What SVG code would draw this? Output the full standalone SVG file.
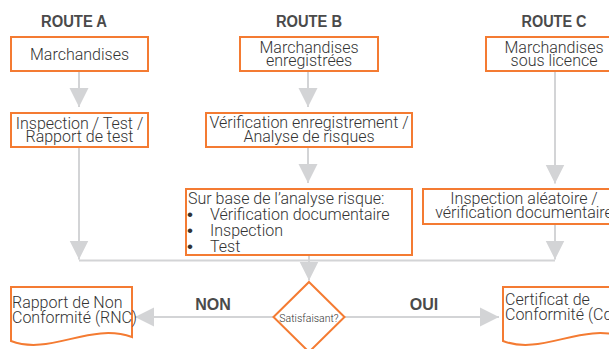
<svg xmlns="http://www.w3.org/2000/svg" width="609" height="349" viewBox="0 0 609 349">
<defs>
<style>
.box{fill:#fff;stroke:#f47b32;stroke-width:2}
.t{font-family:Roboto,"Liberation Sans",Arial,sans-serif;font-weight:300;font-size:16px;fill:#333}
.c{text-anchor:middle}
.b{font-family:"Liberation Sans",Arial,sans-serif;font-size:17px;fill:#333}
.h{font-family:"Liberation Sans",Arial,sans-serif;font-size:16px;font-weight:bold;fill:#4a4a4a;text-anchor:middle}
.ln{fill:none;stroke:#d3d4d6;stroke-width:2}
</style>
<marker id="ah" markerUnits="userSpaceOnUse" markerWidth="20" markerHeight="20" refX="19" refY="9.5" orient="auto" viewBox="0 0 20 19">
<path d="M0,0 L19,9.5 L0,19 Z" fill="#d3d4d6"/>
</marker>
</defs>
<rect width="609" height="349" fill="#fff"/>
<g id="headings">
<text class="h" x="74" y="26.5" textLength="66" lengthAdjust="spacingAndGlyphs">ROUTE A</text>
<text class="h" x="309" y="26.5" textLength="66" lengthAdjust="spacingAndGlyphs">ROUTE B</text>
<text class="h" x="554" y="26.5" textLength="65" lengthAdjust="spacingAndGlyphs">ROUTE C</text>
</g>
<g id="connectors">
<path class="ln" d="M79,71 V107" marker-end="url(#ah)"/>
<path class="ln" d="M79,147 V259.5" marker-end="url(#ah)"/>
<path class="ln" d="M308,72 V107" marker-end="url(#ah)"/>
<path class="ln" d="M308,147 V183" marker-end="url(#ah)"/>
<path class="ln" d="M309,255 V280.5" marker-end="url(#ah)"/>
<path class="ln" d="M555,72 V183.5" marker-end="url(#ah)"/>
<path class="ln" d="M555,224 V259.5" marker-end="url(#ah)"/>
<path class="ln" d="M79,260.5 H555"/>
<path class="ln" d="M273,317 H135" marker-end="url(#ah)"/>
<path class="ln" d="M345,317 H499" marker-end="url(#ah)"/>
<text class="h" x="213" y="310">NON</text>
<text class="h" x="424" y="310">OUI</text>
</g>
<g id="a1">
<rect class="box" x="11" y="37" width="137" height="34"/>
<text class="t c" x="79.5" y="60">Marchandises</text>
</g>
<g id="a2">
<rect class="box" x="11" y="113" width="137" height="34"/>
<text class="t c" x="79.5" y="128.5">Inspection / Test /</text>
<text class="t c" x="79.5" y="142">Rapport de test</text>
</g>
<g id="b1">
<rect class="box" x="240" y="37" width="138" height="34"/>
<text class="t c" x="309" y="53">Marchandises</text>
<text class="t c" x="309" y="66">enregistrées</text>
</g>
<g id="b2">
<rect class="box" x="206" y="113" width="206" height="34"/>
<text class="t c" x="309" y="128.3">Vérification enregistrement /</text>
<text class="t c" x="309" y="142.3">Analyse de risques</text>
</g>
<g id="b3">
<rect class="box" x="186" y="189" width="226" height="66"/>
<text class="t" x="188" y="204">Sur base de l’analyse risque:</text>
<text class="b" x="187" y="220">•</text>
<text class="t" x="210" y="220">Vérification documentaire</text>
<text class="b" x="187" y="236">•</text>
<text class="t" x="210" y="236">Inspection</text>
<text class="b" x="187" y="252">•</text>
<text class="t" x="210" y="252">Test</text>
</g>
<g id="c1">
<rect class="box" x="486" y="37" width="136" height="34"/>
<text class="t c" x="554" y="53">Marchandises</text>
<text class="t c" x="554" y="66">sous licence</text>
</g>
<g id="c2">
<rect class="box" x="423" y="189" width="202" height="35"/>
<text class="t c" x="524" y="204">Inspection aléatoire /</text>
<text class="t c" x="524" y="218.3">vérification documentaire</text>
</g>
<g id="decision">
<path class="box" d="M309,282 L344.5,317 L309,352 L273.5,317 Z"/>
<text class="t c" x="309" y="321.5" style="font-size:10.5px">Satisfaisant?</text>
</g>
<g id="rnc">
<path class="box" d="M11,287 H132 V337 C90,322 50,356 11,341 Z"/>
<text class="t" x="12" y="307.5">Rapport de Non</text>
<text class="t" x="12" y="322.5">Conformité (RNC)</text>
</g>
<g id="cdc">
<path class="box" d="M503,287 H624 V337 C582,322 542,356 503,341 Z"/>
<text class="t" x="505" y="305">Certificat de</text>
<text class="t" x="505" y="320">Conformité (CdC)</text>
</g>
</svg>
